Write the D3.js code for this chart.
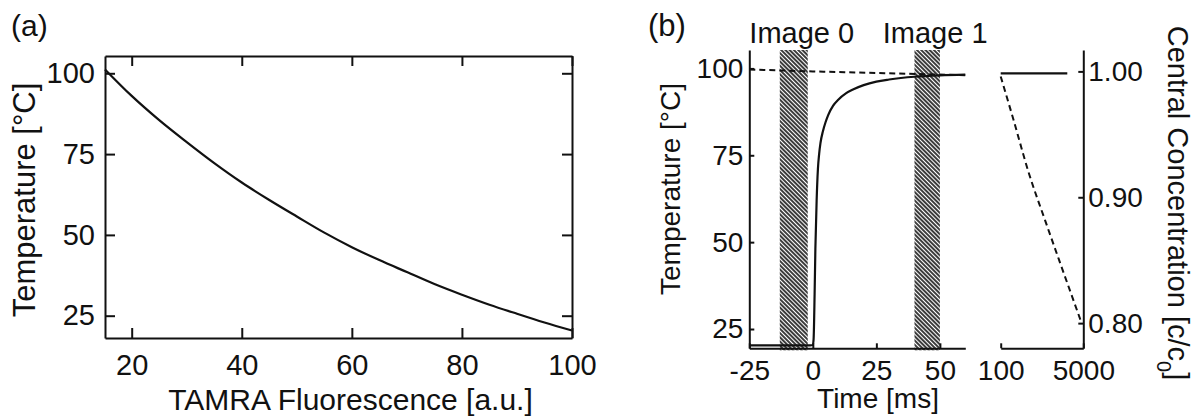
<!DOCTYPE html>
<html>
<head>
<meta charset="utf-8">
<script src="https://cdn.jsdelivr.net/npm/d3@7"></script>
<style>
  body { margin: 0; background: #fff; }
  svg { display: block; font-family: "Liberation Sans", Arial, sans-serif; }
</style>
</head>
<body>
<div id="wrapper"></div>
<script>
// panel (a): calibration curve
const fluor = [15.15, 20, 25, 30, 35, 40, 45, 50, 55, 60, 65, 70, 75, 80, 85, 90, 95, 100];
const tempA = [101.2, 93, 85.5, 78.7, 72.2, 66.2, 60.8, 55.7, 50.7, 46.2, 42.2, 38.5, 34.8, 31.5, 28.4, 25.6, 22.9, 20.4];
const ticksA_x = [20, 40, 60, 80, 100];
const ticksA_y = [25, 50, 75, 100];

// panel (b): heating step, short time scale
const timeMs = [-25, -1, 0, 0.3, 0.7, 1.0, 1.5, 2.0, 2.5, 3, 4, 5, 6, 8, 10, 13, 16, 20, 25, 30, 40, 50, 60];
const tempB  = [20.3, 20.3, 20.4, 22, 35, 48, 62, 71, 75.5, 78.5, 82, 84.5, 86.5, 89.3, 91, 92.8, 94, 95.2, 96.2, 96.8, 97.6, 98, 98.2];
const concTime = [-25, 0, 30, 60];
const conc     = [1.0015, 1.0, 0.9985, 0.997];
// long time scale
const longTime = [100, 4050];
const longTemp = [98.6, 98.6];
const longConcTime = [100, 850, 1750, 2750, 3700, 4900];
const longConc     = [0.996, 0.962, 0.920, 0.881, 0.845, 0.800];
const imageWindows = [[-13, -2], [40, 50]];
const imageLabels = ["Image 0", "Image 1"];
const ticksB_x1 = [-25, 0, 25, 50];
const ticksB_x2 = [100, 5000];
const ticksB_y = [25, 50, 75, 100];
const ticksB_c = [0.80, 0.90, 1.00];

const svg = d3.select("#wrapper").append("svg")
    .attr("width", 1195)
    .attr("height", 419);

const ink = "#111";
const plain = d => String(d);   // keep "-25" with a hyphen, "5000" without comma

const defs = svg.append("defs");
const pat = defs.append("pattern")
    .attr("id", "hatch")
    .attr("patternUnits", "userSpaceOnUse")
    .attr("width", 3)
    .attr("height", 3)
    .attr("patternTransform", "rotate(-45)");
pat.append("rect").attr("width", 3).attr("height", 3).attr("fill", "#fff");
pat.append("line")
    .attr("x1", 1).attr("y1", 0).attr("x2", 1).attr("y2", 3)
    .attr("stroke", "#1a1a1a").attr("stroke-width", 1.7);

function styleAxis(g, size) {
    g.select(".domain").attr("stroke", ink).attr("stroke-width", 2);
    g.selectAll(".tick line").attr("stroke", ink).attr("stroke-width", 2);
    g.selectAll(".tick text").attr("fill", ink).style("font-size", size + "px");
    g.attr("font-family", null).attr("font-size", null);
}

// ---------- panel (a) ----------
const xA = d3.scaleLinear().domain([15.15, 100]).range([105, 572]);
const yA = d3.scaleLinear().domain([18.1, 105.35]).range([338, 56]);

const gA = svg.append("g");

gA.append("g")
    .attr("transform", "translate(0,338)")
    .call(d3.axisBottom(xA).tickValues(ticksA_x).tickFormat(plain).tickSizeInner(-10).tickSizeOuter(0).tickPadding(16.5))
    .call(g => styleAxis(g, 29));
gA.append("g")
    .attr("transform", "translate(0,56)")
    .call(d3.axisTop(xA).tickValues(ticksA_x).tickSizeInner(-10).tickSizeOuter(0).tickFormat(""))
    .call(g => styleAxis(g, 29));
gA.append("g")
    .attr("transform", "translate(105,0)")
    .call(d3.axisLeft(yA).tickValues(ticksA_y).tickFormat(plain).tickSizeInner(-10).tickSizeOuter(0).tickPadding(10))
    .call(g => styleAxis(g, 29));
gA.append("g")
    .attr("transform", "translate(572,0)")
    .call(d3.axisRight(yA).tickValues(ticksA_y).tickSizeInner(-10).tickSizeOuter(0).tickFormat(""))
    .call(g => styleAxis(g, 29));

gA.append("path")
    .datum(fluor.map((f, i) => [f, tempA[i]]))
    .attr("fill", "none")
    .attr("stroke", ink)
    .attr("stroke-width", 2.2)
    .attr("d", d3.line().x(d => xA(d[0])).y(d => yA(d[1])).curve(d3.curveMonotoneX));

gA.append("text")
    .attr("x", 11).attr("y", 36)
    .style("font-size", "30px").attr("fill", ink)
    .text("(a)");

gA.append("text")
    .attr("x", (105 + 572) / 2 + 12).attr("y", 410)
    .attr("text-anchor", "middle")
    .style("font-size", "30px").attr("fill", ink)
    .text("TAMRA Fluorescence [a.u.]");

gA.append("text")
    .attr("transform", "translate(35,200) rotate(-90)")
    .attr("text-anchor", "middle")
    .style("font-size", "31px").attr("fill", ink)
    .text("Temperature [°C]");

// ---------- panel (b) ----------
const xB1 = d3.scaleLinear().domain([-25, 60]).range([749.3, 965.3]);
const xB2 = d3.scaleLinear().domain([100, 5000]).range([1000.7, 1083.3]);
const yT = d3.scaleLinear().domain([19.45, 105.3]).range([348.3, 50]);
const yC = d3.scaleLinear().domain([0.780, 1.017]).range([348.3, 50]);

const gB = svg.append("g");

// image exposure windows
gB.selectAll("rect.win")
    .data(imageWindows)
    .enter()
    .append("rect")
    .attr("class", "win")
    .attr("x", d => xB1(d[0]))
    .attr("width", d => xB1(d[1]) - xB1(d[0]))
    .attr("y", yT.range()[1])
    .attr("height", yT.range()[0] - yT.range()[1] + 2)
    .attr("fill", "url(#hatch)");

gB.selectAll("text.win")
    .data(imageWindows)
    .enter()
    .append("text")
    .attr("class", "win")
    .attr("x", d => (xB1(d[0]) + xB1(d[1])) / 2 + 8)
    .attr("y", 43)
    .attr("text-anchor", "middle")
    .style("font-size", "29px").attr("fill", ink)
    .text((d, i) => imageLabels[i]);

gB.append("g")
    .attr("transform", "translate(0,348.3)")
    .call(d3.axisBottom(xB1).tickValues(ticksB_x1).tickFormat(plain).tickSizeInner(-5).tickSizeOuter(0).tickPadding(11.5))
    .call(g => styleAxis(g, 28));
gB.append("g")
    .attr("transform", "translate(0,348.3)")
    .call(d3.axisBottom(xB2).tickValues(ticksB_x2).tickFormat(plain).tickSizeInner(-5).tickSizeOuter(0).tickPadding(11.5))
    .call(g => styleAxis(g, 28));
gB.append("g")
    .attr("transform", "translate(749.3,0)")
    .call(d3.axisLeft(yT).tickValues(ticksB_y).tickFormat(plain).tickSizeInner(-5).tickSizeOuter(0).tickPadding(6))
    .call(g => styleAxis(g, 28));
gB.append("g")
    .attr("transform", "translate(1083.3,0)")
    .call(d3.axisRight(yC).tickValues(ticksB_c).tickFormat(d3.format(".2f")).tickSizeInner(-5).tickSizeOuter(0).tickPadding(5))
    .call(g => styleAxis(g, 28));

const lineT1 = d3.line().x(d => xB1(d[0])).y(d => yT(d[1])).curve(d3.curveMonotoneX);
const lineC1 = d3.line().x(d => xB1(d[0])).y(d => yC(d[1])).curve(d3.curveMonotoneX);
const lineT2 = d3.line().x(d => xB2(d[0])).y(d => yT(d[1]));
const lineC2 = d3.line().x(d => xB2(d[0])).y(d => yC(d[1])).curve(d3.curveMonotoneX);

gB.append("path")
    .datum(concTime.map((t, i) => [t, conc[i]]))
    .attr("fill", "none").attr("stroke", ink).attr("stroke-width", 2)
    .attr("stroke-dasharray", "6,4")
    .attr("d", lineC1);
gB.append("path")
    .datum(timeMs.map((t, i) => [t, tempB[i]]))
    .attr("fill", "none").attr("stroke", ink).attr("stroke-width", 2.2)
    .attr("d", lineT1);
gB.append("path")
    .datum(longTime.map((t, i) => [t, longTemp[i]]))
    .attr("fill", "none").attr("stroke", ink).attr("stroke-width", 2.2)
    .attr("d", lineT2);
gB.append("path")
    .datum(longConcTime.map((t, i) => [t, longConc[i]]))
    .attr("fill", "none").attr("stroke", ink).attr("stroke-width", 2)
    .attr("stroke-dasharray", "6,4")
    .attr("d", lineC2);

gB.append("text")
    .attr("x", 648).attr("y", 36)
    .style("font-size", "31px").attr("fill", ink)
    .text("(b)");

gB.append("text")
    .attr("x", 878).attr("y", 408)
    .attr("text-anchor", "middle")
    .style("font-size", "28px").attr("fill", ink)
    .text("Time [ms]");

gB.append("text")
    .attr("transform", "translate(680,189) rotate(-90)")
    .attr("text-anchor", "middle")
    .style("font-size", "28px").attr("fill", ink)
    .text("Temperature [°C]");

const rLab = gB.append("text")
    .attr("transform", "translate(1168,203) rotate(90)")
    .attr("text-anchor", "middle")
    .style("font-size", "29px").attr("fill", ink);
rLab.append("tspan").text("Central Concentration [c/c");
rLab.append("tspan").attr("baseline-shift", "sub").style("font-size", "20px").text("0");
rLab.append("tspan").text("]");
</script>
</body>
</html>
